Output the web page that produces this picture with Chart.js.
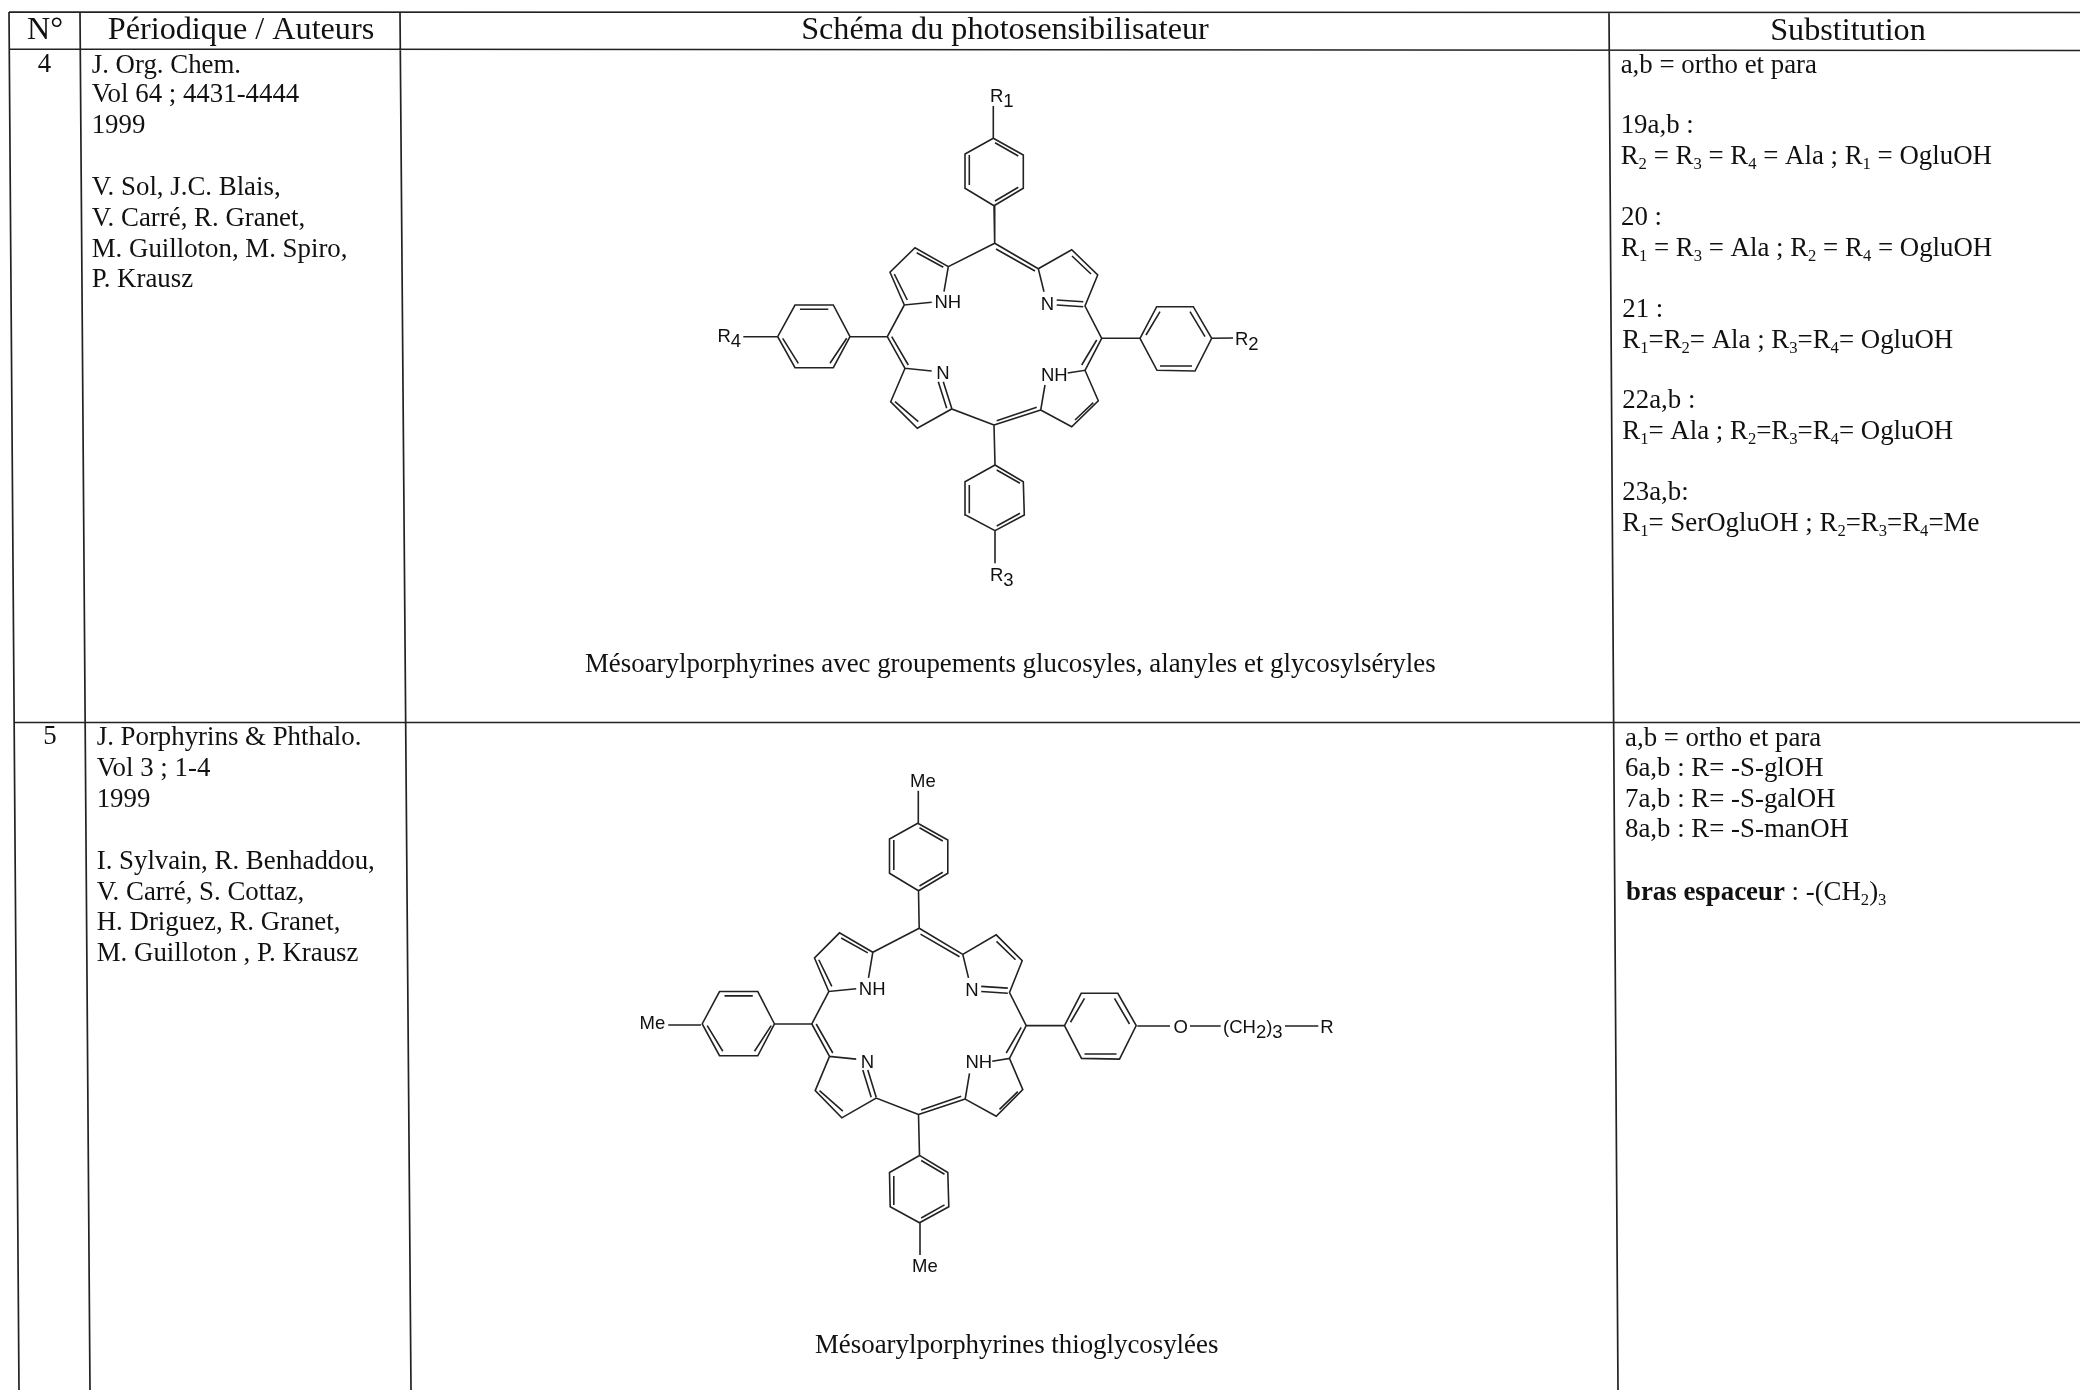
<!DOCTYPE html>
<html>
<head>
<meta charset="utf-8">
<title>Photosensibilisateurs</title>
<style>
  body { margin: 0; background: #fff; }
  canvas { display: block; }
</style>
<script src="https://cdn.jsdelivr.net/npm/chart.js@4"></script>
</head>
<body>
<canvas id="myChart" width="2080" height="1390"></canvas>
<script>
// all lines are flat x,y,x,y lists in page units
const tableRules = [
  [9, 12, 2080, 12.5],
  [9, 49, 2080, 50.5],
  [14, 722.5, 2080, 722.5],
  [9, 12, 19, 1390],
  [80, 12, 90, 1390],
  [400, 12, 411, 1390],
  [1609, 12, 1618, 1390],
];

const porphyrinCore = [
  // top phenyl
  [993.3, 138.3, 1023.3, 155, 1023.3, 188.3, 994, 205.7, 965, 188.3, 965, 154, 993.3, 138.3],
  [995, 142.7, 1018.3, 156], [969.3, 155, 969.3, 185], [995, 201, 1018.3, 187.3],
  [994, 205.7, 994.7, 243.3],
  // top meso and top left pyrrole
  [994.7, 243.3, 1038.3, 268.7], [996, 249, 1035, 271],
  [994.7, 243.3, 948.3, 266.7, 915, 247.7, 890, 272.3, 904.3, 305, 931.7, 302.3],
  [948.3, 266.7, 944, 291.7],
  [916.7, 252.7, 943.3, 267.3], [894.3, 274, 907.3, 300],
  // left meso and left phenyl
  [904.3, 305, 887.3, 336.7, 850, 336.7],
  [850, 336.7, 833.3, 305, 795, 305, 777.7, 336.7, 795, 367.7, 833.3, 367.7, 850, 336.7],
  [800, 309.3, 828.3, 309.3], [782.7, 338.3, 798.3, 363.3], [846.7, 338.3, 830, 363.3],
  // bottom left pyrrole
  [887.3, 336.7, 905, 368.3], [891.7, 336.7, 908.3, 365],
  [931.7, 371, 905, 368.3, 890.7, 401.7, 917.3, 428.3, 951.7, 409, 994, 425],
  [938.3, 381.7, 946.7, 408.3], [943.3, 381.7, 951.7, 408.3],
  [895, 401.7, 918.3, 421.7],
  // bottom meso and bottom phenyl
  [994, 425, 1040.7, 410], [996.7, 420.7, 1036.7, 407.3],
  [994, 425, 995, 465],
  [995, 465, 1023.3, 481.7, 1024.3, 515, 995, 530.7, 965.7, 515, 965, 481.7, 995, 465],
  [996.7, 470, 1020, 483.3], [969.3, 485, 969.3, 513.3], [996.7, 526, 1020, 513.3],
  // bottom right pyrrole
  [1045, 385, 1040.7, 410, 1071.7, 426.7, 1098.3, 400.7, 1085, 370.3, 1067.7, 373],
  [1075, 420, 1093.3, 402.7],
  // right meso and right phenyl
  [1101.7, 338.3, 1085, 370.3], [1096.7, 340, 1081.7, 365],
  [1101.7, 338.3, 1085, 306, 1097.7, 275, 1071.7, 249.7, 1038.3, 268.7, 1044, 291.7],
  [1056.7, 300, 1083.3, 301.7], [1056.7, 305, 1083.3, 306.7],
  [1072, 256, 1091, 274],
  [1101.7, 338.3, 1140, 338.3],
  [1140, 338.3, 1156.7, 306.7, 1193.3, 306.7, 1211.7, 338.3, 1195, 371, 1157, 370.3, 1140, 338.3],
  [1146, 335, 1160, 311.7], [1190, 311.7, 1205, 336.7], [1160, 366, 1192, 366],
];

const armsRowOne = [
  [993.3, 106, 993.3, 138.3],
  [743.3, 336.7, 777.7, 336.7],
  [995, 530.7, 995, 563.3],
  [1211.7, 338.3, 1233, 338],
];

const armsRowTwo = [
  [918.3, 790.7, 918.3, 824],
  [668.3, 1025, 701, 1025],
  [920, 1222, 920, 1255],
  [1137.3, 1026, 1170, 1026],
  [1190, 1026, 1220.7, 1026],
  [1285, 1026, 1318.3, 1026],
];

// ~x~ is a subscript, *x* is bold
const headerLabels = [
  [45, 38.5, "N°"],
  [241, 39, "Périodique / Auteurs"],
  [1005, 39, "Schéma du photosensibilisateur"],
  [1848, 40, "Substitution"],
];

const rowNumbers = [
  [44.5, 71.7, "4"],
  [50, 744.3, "5"],
];

const bodyText = [
  [91.7, 72.5, "J. Org. Chem."],
  [91.7, 102, "Vol 64 ; 4431-4444"],
  [91.7, 132.7, "1999"],
  [91.7, 195, "V. Sol, J.C. Blais,"],
  [91.7, 226, "V. Carré, R. Granet,"],
  [91.7, 256.7, "M. Guilloton, M. Spiro,"],
  [91.7, 287.3, "P. Krausz"],
  [96.7, 745, "J. Porphyrins & Phthalo."],
  [96.7, 776, "Vol 3 ; 1-4"],
  [96.7, 806.7, "1999"],
  [96.7, 869.3, "I. Sylvain, R. Benhaddou,"],
  [96.7, 900, "V. Carré, S. Cottaz,"],
  [96.7, 930, "H. Driguez, R. Granet,"],
  [96.7, 960.7, "M. Guilloton , P. Krausz"],
  [585, 672, "Mésoarylporphyrines avec groupements glucosyles, alanyles et glycosylséryles"],
  [815, 1352.7, "Mésoarylporphyrines thioglycosylées"],
  [1620.7, 72.5, "a,b = ortho et para"],
  [1620.7, 133.3, "19a,b :"],
  [1620.7, 163.8, "R~2~ = R~3~ = R~4~ = Ala ; R~1~ = OgluOH"],
  [1621, 225, "20 :"],
  [1621, 256, "R~1~ = R~3~ = Ala ; R~2~ = R~4~ = OgluOH"],
  [1622.3, 316.7, "21 :"],
  [1622.3, 348.3, "R~1~=R~2~= Ala ; R~3~=R~4~= OgluOH"],
  [1622.3, 408.3, "22a,b :"],
  [1622.3, 439, "R~1~= Ala ; R~2~=R~3~=R~4~= OgluOH"],
  [1622.3, 500, "23a,b:"],
  [1622.3, 530.7, "R~1~= SerOgluOH ; R~2~=R~3~=R~4~=Me"],
  [1625, 746, "a,b = ortho et para"],
  [1625, 775.7, "6a,b : R= -S-glOH"],
  [1625, 806.7, "7a,b : R= -S-galOH"],
  [1625, 837.3, "8a,b : R= -S-manOH"],
  [1626, 899.5, "*bras espaceur* : -(CH~2~)~3~"],
];

const atomLabels = [
  [990, 102.3, "R~1~"],
  [717.5, 341.7, "R~4~"],
  [990, 580.7, "R~3~"],
  [1235, 345, "R~2~"],
  [934.5, 308.3, "NH"],
  [1040.7, 310, "N"],
  [936.2, 379, "N"],
  [1041, 380.7, "NH"],
  [910, 787.3, "Me"],
  [639.5, 1029.3, "Me"],
  [912, 1271.7, "Me"],
  [858.8, 995, "NH"],
  [965.2, 996, "N"],
  [860.7, 1068, "N"],
  [965.5, 1068.3, "NH"],
  [1173.5, 1032.7, "O"],
  [1223, 1032.7, "(CH~2~)~3~"],
  [1320.2, 1032.7, "R"],
];

// the second molecule is the same drawing, a little taller below its top meso
function toRowTwo(line) {
  const out = [];
  for (let i = 0; i < line.length; i += 2) {
    out.push(line[i] - 75.5, line[i + 1] + 685 + Math.max(0, line[i + 1] - 243) * 0.0245);
  }
  return out;
}

function toPoints(lines) {
  const points = [];
  lines.forEach((line) => {
    for (let i = 0; i < line.length; i += 2) {
      points.push({ x: line[i], y: line[i + 1] });
    }
    points.push({ x: line[0], y: null });
  });
  return points;
}

function drawRuns(ctx, scales, item, style) {
  const parts = item[2].split(/(~[^~]+~|\*[^*]+\*)/).filter((p) => p !== "");
  const runs = parts.map((p) => {
    const sub = p[0] === "~";
    const bold = p[0] === "*";
    const text = sub || bold ? p.slice(1, -1) : p;
    const size = sub ? style.size * style.subScale : style.size;
    const font = (bold ? "bold " : "") + size + "px " + style.family;
    ctx.font = font;
    return { text, font, sub, width: ctx.measureText(text).width };
  });
  const total = runs.reduce((sum, r) => sum + r.width, 0);
  let x = scales.x.getPixelForValue(item[0]) - (style.center ? total / 2 : 0);
  const y = scales.y.getPixelForValue(item[1]);
  runs.forEach((r) => {
    ctx.font = r.font;
    ctx.fillText(r.text, x, r.sub ? y + style.subDrop : y);
    x += r.width;
  });
}

const serif = '"Liberation Serif", serif';
const sans = '"Liberation Sans", sans-serif';

const textPlugin = {
  id: "tableText",
  afterDatasetsDraw(chart) {
    const { ctx, scales } = chart;
    ctx.save();
    ctx.fillStyle = "#111";
    ctx.textAlign = "left";
    ctx.textBaseline = "alphabetic";
    const head = { size: 32.2, family: serif, center: true, subScale: 1, subDrop: 0 };
    const body = { size: 26.85, family: serif, center: false, subScale: 0.62, subDrop: 5 };
    const num = { size: 26.85, family: serif, center: true, subScale: 1, subDrop: 0 };
    const atom = { size: 18.5, family: sans, center: false, subScale: 1, subDrop: 5 };
    headerLabels.forEach((t) => drawRuns(ctx, scales, t, head));
    rowNumbers.forEach((t) => drawRuns(ctx, scales, t, num));
    bodyText.forEach((t) => drawRuns(ctx, scales, t, body));
    atomLabels.forEach((t) => drawRuns(ctx, scales, t, atom));
    ctx.restore();
  },
};

new Chart(document.getElementById("myChart"), {
  type: "scatter",
  plugins: [textPlugin],
  data: {
    datasets: [
      {
        label: "Tableau",
        data: toPoints(tableRules),
        showLine: true,
        borderColor: "#222",
        borderWidth: 1.7,
        pointRadius: 0,
      },
      {
        label: "Ligne 4",
        data: toPoints(porphyrinCore.concat(armsRowOne)),
        showLine: true,
        borderColor: "#222",
        borderWidth: 1.6,
        pointRadius: 0,
      },
      {
        label: "Ligne 5",
        data: toPoints(porphyrinCore.map(toRowTwo).concat(armsRowTwo)),
        showLine: true,
        borderColor: "#222",
        borderWidth: 1.6,
        pointRadius: 0,
      },
    ],
  },
  options: {
    responsive: false,
    animation: false,
    layout: { padding: 0 },
    plugins: {
      legend: { display: false },
      tooltip: { enabled: false },
    },
    scales: {
      x: { type: "linear", display: false, min: 0, max: 2080 },
      y: { type: "linear", display: false, min: 0, max: 1390, reverse: true },
    },
  },
});
</script>
</body>
</html>
